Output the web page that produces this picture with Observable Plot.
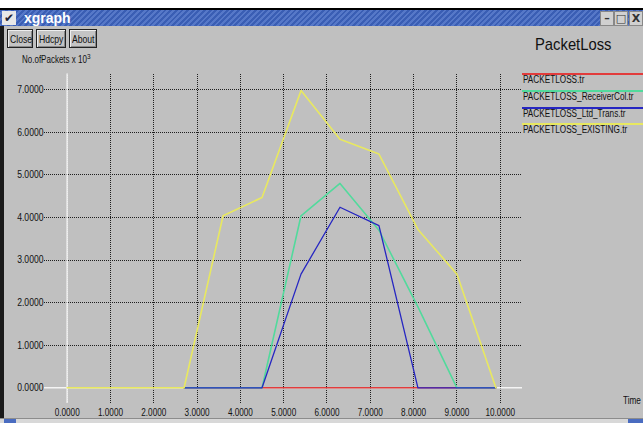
<!DOCTYPE html>
<html><head><meta charset="utf-8">
<script src="https://cdn.jsdelivr.net/npm/d3@7"></script>
<script src="https://cdn.jsdelivr.net/npm/@observablehq/plot@0.6"></script>
<style>
html,body{margin:0;padding:0;background:#fff;}
#win{position:relative;width:643px;height:423px;overflow:hidden;background:#c0c0c0;font-family:"Liberation Sans",Arial,sans-serif;color:#111;}
.abs{position:absolute;}
.nar{display:inline-block;transform:scaleX(0.82);transform-origin:0 50%;white-space:nowrap;}
#topwhite{left:0;top:0;width:643px;height:8px;background:#fff;}
#topblack{left:0;top:8px;width:643px;height:2px;background:#000;}
#titlebar{left:0;top:10px;width:643px;height:16px;background:repeating-linear-gradient(135deg,#3a5eb4 0 2px,#5678c8 2px 4px);}
#titletext{left:24px;top:10px;font:bold 14px "Liberation Sans",sans-serif;color:#fff;}
#vicon{left:2px;top:11px;width:14px;height:14px;background:#e8e8e8;color:#223;font:bold 12px "DejaVu Sans",sans-serif;text-align:center;line-height:14px;}
.wbtn{top:11px;width:12px;height:13px;background:#d0d0d0;border:1px solid #888;font:bold 11px "DejaVu Sans",sans-serif;text-align:center;line-height:13px;color:#333;}
.btn{top:29px;height:19px;border:1px solid #222;box-shadow:inset 1px 1px 0 #eee,inset -1px -1px 0 #888;background:#c4c4c4;font-size:10.5px;line-height:19px;text-align:left;padding-left:2px;box-sizing:border-box;}
#ptitle{left:535px;top:35px;font-size:17px;}
#ptitle .nar{transform:scaleX(0.87);}
#ylab{left:22px;top:54px;font-size:10px;}
#ylab sup{font-size:8px;vertical-align:4px;line-height:0;}
#xlab{left:623px;top:395px;font-size:10px;}
#leftborder{left:0;top:26px;width:4px;height:397px;background:#1a1a1a;}
#scroll{left:0;top:418px;width:643px;height:5px;background:#d8d8d8;border-top:1px solid #8c8c8c;}
#sb1{left:4px;top:419px;width:12px;height:4px;background:#4a6cc0;}
#sb2{left:628px;top:419px;width:15px;height:4px;background:#4a6cc0;}
.lline{left:522px;width:121px;height:2px;}
.ltext{left:523px;font-size:10px;}
#plot{left:0;top:50px;}
</style></head>
<body>
<div id="win">
  <div class="abs" id="topwhite"></div>
  <div class="abs" id="topblack"></div>
  <div class="abs" id="titlebar"></div>
  <div class="abs" id="vicon">&#x2714;</div>
  <div class="abs" id="titletext">xgraph</div>
  <div class="abs wbtn" style="left:600px">&#x2013;</div>
  <div class="abs wbtn" style="left:614px">&#x25A1;</div>
  <div class="abs wbtn" style="left:629px">X</div>
  <div class="abs btn" style="left:7px;width:26px"><span class="nar">Close</span></div>
  <div class="abs btn" style="left:36px;width:30px"><span class="nar">Hdcpy</span></div>
  <div class="abs btn" style="left:69px;width:28px"><span class="nar">About</span></div>
  <div class="abs" id="ptitle"><span class="nar">PacketLoss</span></div>
  <div class="abs" id="ylab"><span class="nar" style="transform:scaleX(0.8)">No.ofPackets x 10<sup>3</sup></span></div>
  <div class="abs" id="plot"></div>
  <div class="abs" id="legend"></div>
  <div class="abs" id="xlab"><span class="nar">Time</span></div>
  <div class="abs" id="leftborder"></div>
  <div class="abs" id="scroll"></div>
  <div class="abs" id="sb1"></div>
  <div class="abs" id="sb2"></div>
</div>
<script>
// ---- data ----
const times = [0, 2.7, 3.6, 4.5, 5.4, 6.3, 7.2, 8.1, 9.0, 9.9];
const seriesNames = ["PACKETLOSS.tr", "PACKETLOSS_ReceiverCol.tr", "PACKETLOSS_Ltd_Trans.tr", "PACKETLOSS_EXISTING.tr"];
const seriesColors = ["#e23c3c", "#52da9c", "#2626c2", "#e8e860"];
const lossRed      = [null, 0, 0, 0, 0, 0, 0, 0, 0, 0];
const lossReceiver = [null, 0, 0, 0, 4.04, 4.80, 3.70, 1.90, 0, 0];
const lossLtdTrans = [null, 0, 0, 0, 2.67, 4.24, 3.81, 0, 0, 0];
const lossExisting = [0, 0, 4.04, 4.47, 6.98, 5.84, 5.49, 3.72, 2.67, 0];
const xTicks = [0, 1, 2, 3, 4, 5, 6, 7, 8, 9, 10];
const yTicks = [0, 1, 2, 3, 4, 5, 6, 7];

const allSeries = [lossRed, lossReceiver, lossLtdTrans, lossExisting];
const tables = allSeries.map(vals => times.map((t, i) => ({t, v: vals[i]})).filter(d => d.v !== null));

const fmt = d3.format(".4f");

const chart = Plot.plot({
  width: 643,
  height: 368,
  marginLeft: 44,
  marginRight: 121,
  marginTop: 23.5,
  marginBottom: 15,
  style: {background: "transparent", fontFamily: `"Liberation Sans",Arial,sans-serif`, fontSize: "10px", color: "#111", overflow: "visible"},
  x: {domain: [-0.524, 10.515]},
  y: {domain: [-0.369, 7.37]},
  marks: [
    Plot.ruleY(yTicks, {stroke: "#1e1e1e", strokeDasharray: "1,1", strokeWidth: 1, shapeRendering: "crispEdges"}),
    Plot.ruleX(xTicks, {stroke: "#1e1e1e", strokeDasharray: "1,1", strokeWidth: 1, shapeRendering: "crispEdges"}),
    Plot.ruleX([0], {stroke: "#f4f4f4", strokeWidth: 1.5}),
    Plot.ruleY([0], {stroke: "#f4f4f4", strokeWidth: 1.5}),
    ...tables.map((tb, k) => Plot.line(tb, {x: "t", y: "v", stroke: seriesColors[k], strokeWidth: k === 2 ? 1.3 : 1.6, curve: "linear"})),
    Plot.axisX({ticks: xTicks, tickFormat: fmt, tickSize: 0, tickPadding: 5, label: null, fontSize: 10}),
    Plot.axisY({ticks: yTicks, tickFormat: fmt, tickSize: 0, tickPadding: 1, label: null, fontSize: 10.5})
  ]
});
document.getElementById("plot").appendChild(chart);

// narrow the tick labels (xgraph uses a condensed font)
chart.querySelectorAll("text").forEach(t => {
  const tr = t.getAttribute("transform");
  if (tr) {
    t.setAttribute("transform", tr + " scale(0.82,1)");
  } else {
    const x = +(t.getAttribute("x") || 0), y = +(t.getAttribute("y") || 0);
    t.setAttribute("x", 0); t.setAttribute("y", 0);
    t.setAttribute("transform", `translate(${x},${y}) scale(0.82,1)`);
  }
});

// legend (xgraph style: coloured line with the file name beneath)
const lineTops = [73, 90, 107, 122.5];
const legend = document.getElementById("legend");
seriesNames.forEach((name, k) => {
  const ln = document.createElement("div");
  ln.className = "abs lline";
  ln.style.top = lineTops[k] + "px";
  ln.style.background = seriesColors[k];
  legend.appendChild(ln);
  const tx = document.createElement("div");
  tx.className = "abs ltext";
  tx.style.top = (lineTops[k] + 1) + "px";
  const sp = document.createElement("span");
  sp.className = "nar";
  sp.textContent = name;
  tx.appendChild(sp);
  legend.appendChild(tx);
});
</script>
</body></html>
